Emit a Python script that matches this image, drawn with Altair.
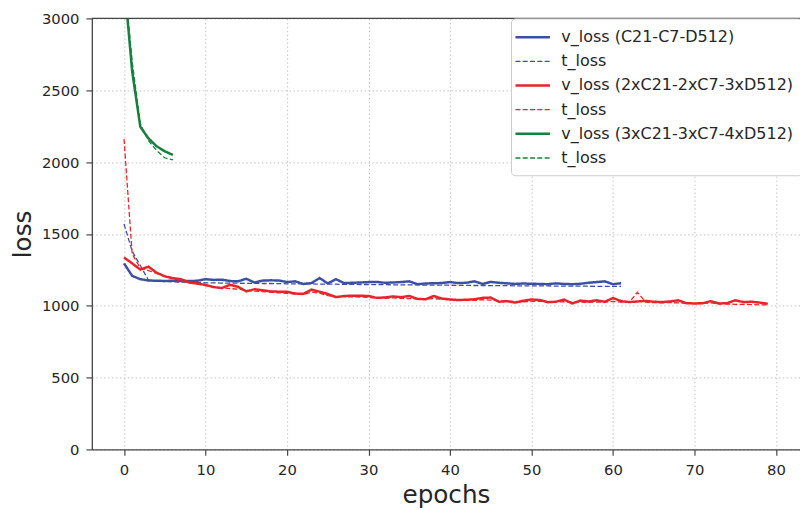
import altair as alt
import pandas as pd

# ---- data ----
blue_v = [1295, 1208, 1185, 1176, 1174, 1173, 1174, 1172, 1172, 1174,
          1185, 1180, 1182, 1172, 1170, 1188, 1162, 1175, 1177, 1176,
          1165, 1170, 1152, 1158, 1193, 1155, 1185, 1158, 1160, 1162,
          1165, 1166, 1160, 1162, 1165, 1170, 1150, 1155, 1157, 1158,
          1165, 1158, 1160, 1170, 1152, 1166, 1160, 1156, 1152, 1155,
          1153, 1152, 1150, 1156, 1152, 1150, 1153, 1160, 1165, 1170,
          1150, 1157]
blue_t = [1570, 1380, 1280, 1178, 1170, 1168, 1166, 1165, 1164, 1162,
          1160, 1160, 1158, 1158, 1157, 1156, 1156, 1155, 1155, 1154,
          1153, 1153, 1152, 1152, 1151, 1150, 1150, 1149, 1149, 1148,
          1148, 1147, 1147, 1146, 1146, 1145, 1145, 1144, 1144, 1143,
          1143, 1142, 1142, 1141, 1141, 1140, 1140, 1140, 1139, 1139,
          1138, 1138, 1138, 1137, 1137, 1136, 1136, 1136, 1135, 1135,
          1135, 1134]
red_v = [1336, 1295, 1252, 1272, 1230, 1205, 1192, 1185, 1162, 1155,
         1145, 1130, 1123, 1146, 1132, 1100, 1115, 1108, 1100, 1098,
         1098, 1085, 1083, 1112, 1098, 1082, 1060, 1068, 1070, 1070,
         1068, 1055, 1058, 1065, 1060, 1068, 1048, 1045, 1068, 1050,
         1044, 1040, 1042, 1045, 1055, 1057, 1028, 1032, 1022, 1035,
         1044, 1040, 1025, 1028, 1043, 1016, 1036, 1030, 1038, 1028,
         1054, 1032, 1026, 1030, 1034, 1028, 1026, 1030, 1038, 1018,
         1016, 1018, 1032, 1016, 1018, 1038, 1026, 1028, 1022, 1014]
red_t = [2160, 1360, 1262, 1245, 1225, 1205, 1190, 1172, 1160, 1150,
         1140, 1130, 1125, 1120, 1115, 1108, 1102, 1098, 1095, 1090,
         1086, 1082, 1078, 1095, 1088, 1070, 1065, 1063, 1062, 1060,
         1058, 1055, 1052, 1055, 1052, 1050, 1048, 1046, 1050, 1045,
         1042, 1040, 1040, 1038, 1042, 1040, 1035, 1033, 1030, 1028,
         1030, 1032, 1028, 1026, 1028, 1025, 1026, 1024, 1026, 1024,
         1030, 1026, 1024, 1094, 1026, 1022, 1020, 1022, 1020, 1018,
         1015, 1016, 1020, 1014, 1012, 1010, 1010, 1008, 1006, 1006]
green_v = [3270, 2630, 2245, 2165, 2110, 2075, 2050]
green_t = [3300, 2700, 2265, 2150, 2080, 2030, 2015]

series_keys = ["v1", "t1", "v2", "t2", "v3", "t3"]
series_labels = ["v_loss (C21-C7-D512)", "t_loss",
                 "v_loss (2xC21-2xC7-3xD512)", "t_loss",
                 "v_loss (3xC21-3xC7-4xD512)", "t_loss"]
series_values = [blue_v, blue_t, red_v, red_t, green_v, green_t]
colors = ["#3b50a3", "#3b50a3", "#e8232a", "#e8232a", "#18803f", "#18803f"]
dashes = [[1, 0], [5, 2.4], [1, 0], [5, 2.4], [1, 0], [5, 2.4]]
widths = [2.5, 1.3, 2.5, 1.3, 2.5, 1.3]

rows = []
for k, vals in zip(series_keys, series_values):
    for i, v in enumerate(vals):
        rows.append({"epoch": i, "loss": v, "series": k})
df = pd.DataFrame(rows)

label_expr = " : ".join(
    f"datum.label == '{k}' ? '{l}'" for k, l in zip(series_keys, series_labels)
) + " : ''"

FONT = "DejaVu Sans"
AX = "#444444"

x = alt.X("epoch:Q", title="epochs",
          scale=alt.Scale(domain=[-3.95, 82.95], nice=False, zero=False),
          axis=alt.Axis(values=list(range(0, 81, 10)), format="d"))
y = alt.Y("loss:Q", title="loss",
          scale=alt.Scale(domain=[0, 3000], nice=False),
          axis=alt.Axis(values=list(range(0, 3001, 500)), format="d"))

lines = alt.Chart(df).mark_line(clip=True).encode(
    x=x, y=y,
    color=alt.Color("series:N", title=None,
                    scale=alt.Scale(domain=series_keys, range=colors),
                    legend=alt.Legend(
                        orient="none", legendX=425, legendY=0,
                        labelExpr=label_expr, symbolType="M-2,0L2,0",
                        symbolSize=306, symbolOffset=3, labelOffset=19,
                        rowPadding=6, padding=9, fillColor="white",
                        strokeColor="#cccccc", cornerRadius=4,
                        labelFont=FONT, labelFontSize=16.2,
                        labelColor="#262626", labelLimit=400)),
    strokeDash=alt.StrokeDash("series:N", title=None,
                              scale=alt.Scale(domain=series_keys, range=dashes)),
    strokeWidth=alt.StrokeWidth("series:N", title=None,
                                scale=alt.Scale(type="ordinal",
                                                domain=series_keys, range=widths)),
    order=alt.Order("epoch:Q"),
)

top_spine = alt.Chart().mark_rule(color=AX, strokeWidth=1.3).encode(
    y=alt.datum(3000))

chart = alt.layer(lines, top_spine).properties(
    width=718, height=437,
    autosize=alt.AutoSizeParams(type="none"),
    padding={"left": 85, "top": 7, "right": 0, "bottom": 70},
).configure_view(stroke=None).configure_axis(
    labelFont=FONT, titleFont=FONT, labelFontSize=15, titleFontSize=25,
    labelColor="#262626", titleColor="#262626", titleFontWeight="normal",
    domainColor=AX, domainWidth=1.3, tickColor=AX, tickSize=6, tickWidth=1.2,
    gridColor="#c4c4c4", gridDash=[1.5, 2.5], gridWidth=1,
    labelPadding=7,
).configure_axisY(titlePadding=6).configure_axisX(titlePadding=6)

chart.save("out.html", embed_options={"renderer": "svg", "actions": False})
